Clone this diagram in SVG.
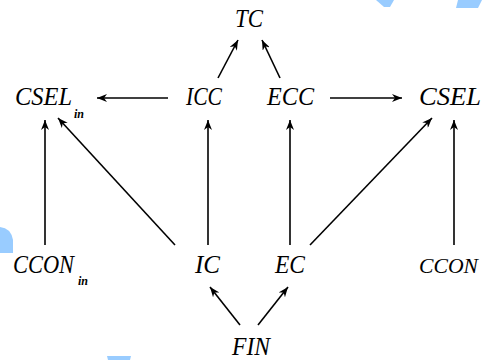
<svg xmlns="http://www.w3.org/2000/svg" width="485" height="360" viewBox="0 0 485 360">
<style>
.lbl{font-family:"Liberation Serif","Times New Roman",serif;font-style:italic;font-size:25px;fill:#000}
.sub{font-family:"Liberation Serif","Times New Roman",serif;font-style:italic;font-weight:bold;font-size:12px;fill:#000}
.edge{stroke:#000;stroke-width:1.6;fill:none;marker-end:url(#ah)}
.deco{fill:#99ccff}
</style>
<defs>
<marker id="ah" markerUnits="userSpaceOnUse" markerWidth="11" markerHeight="8" refX="10" refY="4" orient="auto">
<path d="M0,0 L10,4 L0,8 L3,4 z" fill="#000"/>
</marker>
</defs>
<rect width="485" height="360" fill="#fff"/>
<g id="decor">
<polygon class="deco" points="376,0 394,0 390,7 384,7"/>
<polygon class="deco" points="458,0 482,0 478,8 456,8"/>
<path class="deco" d="M0,227 Q11,228 13,240 L13,253 L0,253 z"/>
<polygon class="deco" points="107,356 131,356 130,360 108,360"/>
</g>
<g id="connectors">
<line class="edge" x1="218" y1="78" x2="238" y2="40"/>
<line class="edge" x1="280" y1="78" x2="262" y2="40"/>
<line class="edge" x1="168" y1="98" x2="97" y2="98"/>
<line class="edge" x1="330" y1="98" x2="402" y2="98"/>
<line class="edge" x1="45" y1="245" x2="45" y2="120"/>
<line class="edge" x1="175" y1="245" x2="58" y2="118"/>
<line class="edge" x1="208" y1="245" x2="208" y2="120"/>
<line class="edge" x1="290" y1="245" x2="290" y2="120"/>
<line class="edge" x1="310" y1="245" x2="432" y2="118"/>
<line class="edge" x1="454" y1="245" x2="454" y2="120"/>
<line class="edge" x1="240" y1="325" x2="210" y2="287"/>
<line class="edge" x1="258" y1="325" x2="288" y2="287"/>
</g>
<g id="TC"><text class="lbl" x="235" y="27" textLength="28" lengthAdjust="spacingAndGlyphs">TC</text></g>
<g id="CSEL_in"><text class="lbl" x="15" y="105" textLength="57" lengthAdjust="spacingAndGlyphs">CSEL</text><text class="sub" x="74" y="118">in</text></g>
<g id="ICC"><text class="lbl" x="186" y="105" textLength="36" lengthAdjust="spacingAndGlyphs">ICC</text></g>
<g id="ECC"><text class="lbl" x="267" y="105" textLength="47" lengthAdjust="spacingAndGlyphs">ECC</text></g>
<g id="CSEL"><text class="lbl" x="419" y="105" textLength="62" lengthAdjust="spacingAndGlyphs">CSEL</text></g>
<g id="CCON_in"><text class="lbl" x="13" y="273" textLength="61" lengthAdjust="spacingAndGlyphs">CCON</text><text class="sub" x="78" y="285">in</text></g>
<g id="IC"><text class="lbl" x="195" y="273" textLength="25" lengthAdjust="spacingAndGlyphs">IC</text></g>
<g id="EC"><text class="lbl" x="275" y="273" textLength="30" lengthAdjust="spacingAndGlyphs">EC</text></g>
<g id="CCON"><text class="lbl" x="419" y="273" style="font-size:22px" textLength="59" lengthAdjust="spacingAndGlyphs">CCON</text></g>
<g id="FIN"><text class="lbl" x="232" y="355" textLength="38" lengthAdjust="spacingAndGlyphs">FIN</text></g>
</svg>
